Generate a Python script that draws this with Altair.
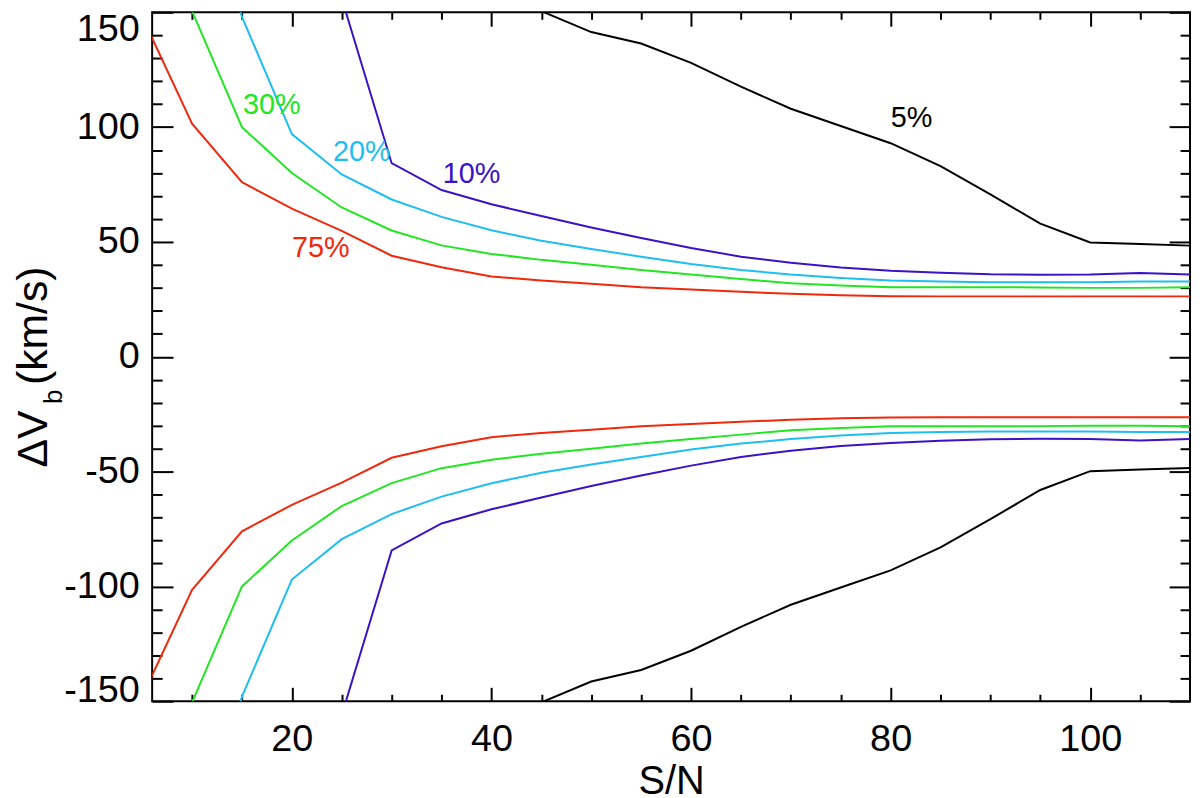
import altair as alt
import pandas as pd

# S/N values of the simulations
sn = [5, 10, 15, 20, 25, 30, 35, 40, 45, 50, 55, 60, 65, 70, 75, 80, 85, 90, 95, 100, 105, 110]

# half-width Delta V_b (km/s) for each level (None = off the plot)
dv_5 = [None, None, None, None, None, None, 178, 162, 150.5, 141.4, 136.4, 128, 117.6, 108,
        100.5, 93, 83, 70.7, 58, 49.8, 49.1, 48.4]
dv_10 = [None, None, None, 235, 156, 84.3, 72.6, 66.4, 61.3, 56.3, 51.7, 47.4, 43.6, 40.9,
         38.9, 37.5, 36.6, 35.9, 35.7, 35.8, 36.5, 35.8]
dv_20 = [None, 225, 148, 97, 79.4, 68.5, 60.9, 55.1, 50.5, 46.9, 43.6, 40.4, 37.8, 35.8,
         34.3, 33.2, 32.8, 32.5, 32.5, 32.5, 32.8, 32.8]
dv_30 = [215, 150.5, 100, 80, 65, 55, 48.5, 44.8, 42.2, 40.1, 37.8, 35.8, 33.9, 32,
         31, 30.3, 30.3, 30.3, 30.2, 30, 30, 30.3]
dv_75 = [148, 101.5, 76, 64.5, 54.8, 44, 39, 35, 33.2, 31.8, 30.3, 29.3, 28.3, 27.4,
         26.8, 26.4, 26.3, 26.3, 26.3, 26.3, 26.3, 26.3]

levels = ["5%", "10%", "20%", "30%", "75%"]
colors = ["#000000", "#3a12c8", "#1ebef0", "#22e622", "#f0280c"]
curves = [dv_5, dv_10, dv_20, dv_30, dv_75]

# in-plot labels
label_sn = [82.1, 38.0, 27.0, 18.0, 22.9]
label_dv = [104.0, 79.4, 89.0, 109.8, 47.3]

# axis ticks
x_major = [20, 40, 60, 80, 100]
x_minor = [10, 15, 25, 30, 35, 45, 50, 55, 65, 70, 75, 85, 90, 95, 105]
y_major = [-150, -100, -50, 0, 50, 100, 150]
y_minor = [-140, -130, -120, -110, -90, -80, -70, -60, -40, -30, -20, -10,
           10, 20, 30, 40, 60, 70, 80, 90, 110, 120, 130, 140]

FONT = "Liberation Sans, Arial, sans-serif"

rows = []
for lev, vals in zip(levels, curves):
    for s, v in zip(sn, vals):
        if v is None:
            continue
        rows.append({"sn": s, "dv": v, "level": lev, "branch": lev + "+"})
        rows.append({"sn": s, "dv": -v, "level": lev, "branch": lev + "-"})
df = pd.DataFrame(rows)

xs = alt.Scale(domain=[6, 110], nice=False, zero=False)
ys = alt.Scale(domain=[-150, 150], nice=False, zero=False)
color = alt.Color("level:N", scale=alt.Scale(domain=levels, range=colors), legend=None)

# end labels of the y axis sit inside the frame
y_label_baseline = {
    "condition": [
        {"test": "datum.value == 150", "value": "top"},
        {"test": "datum.value == -150", "value": "alphabetic"},
    ],
    "value": "middle",
}
y_label_offset = {"condition": {"test": "datum.value == 150", "value": -2}, "value": 0}

lines = alt.Chart(df).mark_line(strokeWidth=2, clip=True).encode(
    x=alt.X("sn:Q", scale=xs, axis=alt.Axis(
        orient="bottom", values=x_major, ticks=False, domain=False,
        labelFontSize=38, labelPadding=20, labelFlush=False,
        title="S/N", titleFontSize=40, titleFontWeight="normal",
        titleBaseline="alphabetic", titlePadding=35)),
    y=alt.Y("dv:Q", scale=ys, axis=alt.Axis(
        orient="left", values=y_major, ticks=False, domain=False,
        labelFontSize=38, labelPadding=13, labelFlush=False,
        labelBaseline=y_label_baseline, labelOffset=y_label_offset,
        labelExpr="'' + datum.value", title=None)),
    color=color,
    detail="branch:N",
)


def tick_layer(x_vals, x_len, x_orient, y_vals, y_len, y_orient):
    # invisible layer that only carries inward-pointing ticks
    return alt.Chart(df).mark_line(strokeOpacity=0).encode(
        x=alt.X("sn:Q", scale=xs, axis=alt.Axis(
            orient=x_orient, values=x_vals, tickSize=x_len, offset=-x_len,
            labels=False, domain=False, title=None)),
        y=alt.Y("dv:Q", scale=ys, axis=alt.Axis(
            orient=y_orient, values=y_vals, tickSize=y_len, offset=-y_len,
            labels=False, domain=False, title=None)),
        detail="branch:N",
    )


ticks = [
    tick_layer(x_major, 14, "bottom", y_major, 21, "left"),
    tick_layer(x_minor, 7, "bottom", y_minor, 10, "left"),
    tick_layer(x_major, 14, "top", y_major, 21, "right"),
    tick_layer(x_minor, 7, "top", y_minor, 10, "right"),
]

lab_df = pd.DataFrame({"sn": label_sn, "dv": label_dv, "level": levels})
labels = alt.Chart(lab_df).mark_text(
    fontSize=29, font=FONT, align="center", baseline="middle"
).encode(
    x=alt.X("sn:Q", scale=xs, axis=None),
    y=alt.Y("dv:Q", scale=ys, axis=None),
    text="level:N",
    color=color,
)


def title_part(txt, size, px, py):
    return alt.Chart(pd.DataFrame({"t": [txt]})).mark_text(
        angle=270, align="left", baseline="alphabetic", fontSize=size, font=FONT, color="black"
    ).encode(x=alt.value(px), y=alt.value(py), text="t:N")


y_title = [
    title_part("\u0394V", 43, -106, 458),
    title_part("b", 26, -91, 394),
    title_part("(km/s)", 43, -106, 375),
]

chart = alt.layer(lines, *ticks, labels, *y_title).resolve_axis(
    x="independent", y="independent"
).properties(
    width=1044,
    height=693,
    autosize=alt.AutoSizeParams(type="none"),
    padding={"left": 145, "top": 2, "right": 2, "bottom": 95},
).configure_view(
    stroke="black", strokeWidth=2
).configure_axis(
    grid=False, labelFont=FONT, titleFont=FONT, labelColor="black",
    titleColor="black", tickColor="black", tickWidth=2
)

chart.save("out.html", embed_options={"renderer": "svg", "actions": False})
